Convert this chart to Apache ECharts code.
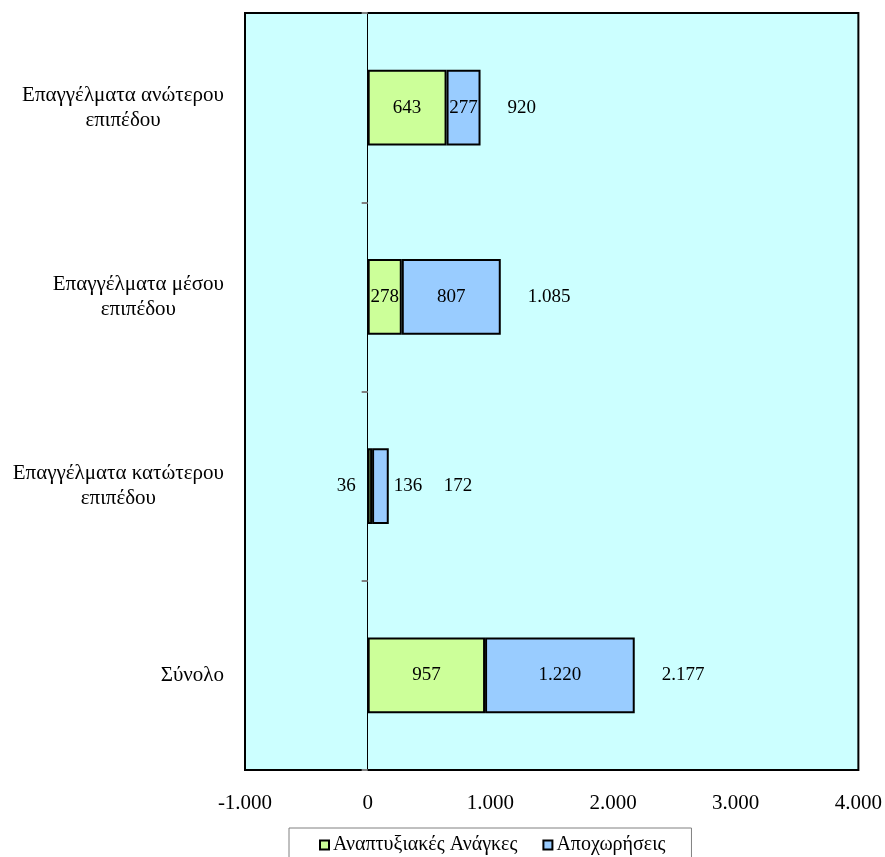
<!DOCTYPE html>
<html>
<head>
<meta charset="utf-8">
<script src="https://cdn.jsdelivr.net/npm/echarts@6/dist/echarts.min.js"></script>
<style>
html,body{margin:0;padding:0;background:#fff;}
#chart{width:885px;height:857px;}
</style>
</head>
<body>
<div id="chart"></div>
<script>
// Categories in bottom-to-top order (ECharts category y axis)
const categories = [
  'Σύνολο',
  'Επαγγέλματα κατώτερου\nεπιπέδου',
  'Επαγγέλματα μέσου\nεπιπέδου',
  'Επαγγέλματα ανώτερου\nεπιπέδου'
];
const seriesNames = ['Αναπτυξιακές Ανάγκες', 'Αποχωρήσεις'];
const developmentNeeds = [957, 36, 278, 643];
const retirements = [1220, 136, 807, 277];
const totals = [2177, 172, 1085, 920];
const xTicks = [-1000, 0, 1000, 2000, 3000, 4000];

const FONT = '"Liberation Serif", "Times New Roman", serif';
const fmt = n => String(n).replace(/\B(?=(\d{3})+(?!\d))/g, '.');

const chart = echarts.init(document.getElementById('chart'));

const catLabelFormatter = v => v.split('\n').map(l => '{c|' + l + '}').join('\n');

const smallIdx = 1; // category with very small segments
const dataLabel = { fontFamily: FONT, fontSize: 19, color: '#000' };
const option = {
  animation: false,
  grid: {
    left: 245, right: 24, top: 13, bottom: 87,
    show: true, backgroundColor: '#CCFFFF', borderColor: '#000', borderWidth: 2
  },
  legend: {
    data: seriesNames,
    left: 289, top: 828,
    padding: [7, 26, 14, 30],
    borderColor: '#808080', borderWidth: 1,
    itemWidth: 9, itemHeight: 9, itemGap: 25,
    icon: 'rect',
    textStyle: { fontFamily: FONT, fontSize: 20, color: '#000', padding: [0, 0, 0, -1] }
  },
  xAxis: {
    type: 'value', min: xTicks[0], max: xTicks[xTicks.length - 1], interval: 1000,
    axisLine: { show: false }, axisTick: { show: false }, splitLine: { show: false },
    axisLabel: { formatter: v => fmt(v), fontFamily: FONT, fontSize: 21, color: '#000', margin: 23 }
  },
  yAxis: [
    {
      type: 'category', data: categories, position: 'left',
      axisLine: { show: false, onZero: false }, axisTick: { show: false },
      axisLabel: {
        formatter: catLabelFormatter, margin: 21,
        fontFamily: FONT, fontSize: 21, color: '#000', lineHeight: 25,
        rich: { c: { align: 'center', fontFamily: FONT, fontSize: 21, color: '#000', lineHeight: 25 } }
      }
    },
    {
      type: 'category', data: categories, position: 'left',
      axisLine: { show: true, onZero: true, onZeroAxisIndex: 0, lineStyle: { color: '#000', width: 1 } },
      axisTick: { show: true, length: 6, lineStyle: { color: '#808080', width: 2 } },
      axisLabel: { show: false }
    }
  ],
  series: [
    {
      name: seriesNames[0], type: 'bar', stack: 'a', barWidth: '40%',
      itemStyle: { color: '#CCFF99', borderColor: '#000', borderWidth: 2 },
      label: Object.assign({ show: true, position: 'inside', formatter: p => fmt(p.value) }, dataLabel),
      data: developmentNeeds.map((v, i) => i === smallIdx
        ? { value: v, label: { position: 'left', distance: 12 } }
        : v)
    },
    {
      name: seriesNames[1], type: 'bar', stack: 'a', barWidth: '40%',
      itemStyle: { color: '#99CCFF', borderColor: '#000', borderWidth: 2 },
      label: Object.assign({ show: true, position: 'inside', formatter: p => fmt(p.value) }, dataLabel),
      data: retirements.map((v, i) => i === smallIdx
        ? { value: v, label: { position: 'right', distance: 5 } }
        : v)
    },
    {
      name: 'Σύνολο', type: 'scatter', symbolSize: 0, silent: true,
      itemStyle: { opacity: 1 },
      label: Object.assign({ show: true, position: 'right', distance: 27,
        formatter: p => fmt(p.value[0]) }, dataLabel),
      data: totals.map((v, i) => i === smallIdx
        ? { value: [v, i], label: { distance: 55 } }
        : { value: [v, i] })
    }
  ]
};
chart.setOption(option);
</script>
</body>
</html>
